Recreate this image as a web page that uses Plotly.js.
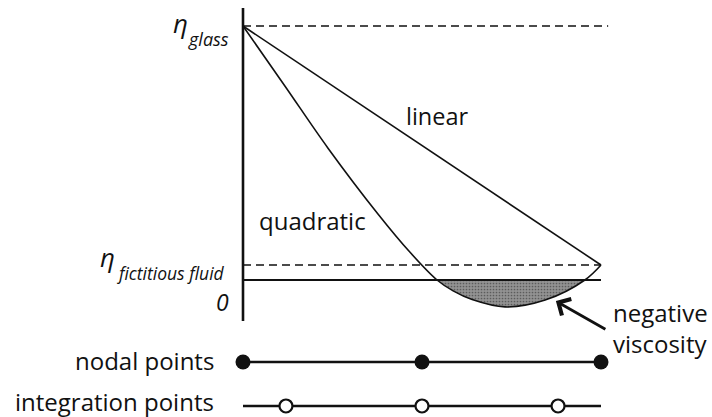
<!DOCTYPE html>
<html>
<head>
<meta charset="utf-8">
<script src="https://cdn.plot.ly/plotly-3.0.1.min.js"></script>
<style>
  html, body { margin: 0; padding: 0; background: #fff; }
  #chart { width: 712px; height: 417px; }
</style>
</head>
<body>
<div id="chart"></div>
<script>
// Viscosity across one element: reference levels (fraction of eta_glass)
const ETA_GLASS = 1.0;
const ETA_FF = 0.059;

// Linear interpolation between the two end values
const linearX = [0, 1];
const linearY = [1.0, 0.059];

// Quadratic interpolation through the nodal values, dips below zero
const quadX = [0, 0.117, 0.237, 0.377, 0.466, 0.542, 0.587, 0.640, 0.732, 0.844, 0.955, 1.0];
const quadY = [1.0, 0.764, 0.520, 0.260, 0.110, 0, -0.043, -0.077, -0.106, -0.079, 0, 0.059];

// Element nodes and Gauss integration points along the element
const nodeX = [0, 0.5, 1];
const gaussX = [0.12, 0.5, 0.88];

// Vertical placement of the two point rows below the graph
const ROW_NODAL = -0.323;
const ROW_GAUSS = -0.496;

const W = 712, H = 417;
const px = v => v / W;
const py = v => 1 - v / H;

const ink = '#111';
const FONT = 'Open Sans, Noto Sans, sans-serif';

// Negative (unphysical) part of the quadratic curve
const negX = quadX.filter((x, i) => quadY[i] <= 0);
const negY = quadY.filter(y => y <= 0);

const traces = [
  { x: negX, y: negY, mode: 'lines', line: { width: 0, shape: 'spline', smoothing: 1 },
    fill: 'tozeroy', fillcolor: '#8c8c8c',
    fillpattern: { shape: '.', bgcolor: '#929292', fgcolor: '#5c5c5c', size: 3, solidity: 0.25 },
    hoverinfo: 'skip' },
  // eta_glass and eta_fictitious fluid reference levels
  { x: [0, 1.02], y: [ETA_GLASS, ETA_GLASS], mode: 'lines',
    line: { color: ink, width: 1.6, dash: '8px,5px' } },
  { x: [0, 1], y: [ETA_FF, ETA_FF], mode: 'lines',
    line: { color: ink, width: 1.6, dash: '8px,5px' } },
  // zero line
  { x: [0, 1], y: [0, 0], mode: 'lines', line: { color: ink, width: 2.2 } },
  // vertical axis
  { x: [0, 0], y: [1.071, -0.161], mode: 'lines', line: { color: ink, width: 2.6 } },
  { x: linearX, y: linearY, mode: 'lines', line: { color: ink, width: 1.6 } },
  { x: quadX, y: quadY, mode: 'lines', line: { color: ink, width: 1.6, shape: 'spline', smoothing: 1 } },
  // nodal points row
  { x: nodeX, y: nodeX.map(() => ROW_NODAL), mode: 'lines+markers',
    line: { color: ink, width: 2.6 },
    marker: { size: 15, color: ink } },
  // integration points row
  { x: [nodeX[0], nodeX[nodeX.length - 1]], y: [ROW_GAUSS, ROW_GAUSS], mode: 'lines',
    line: { color: ink, width: 2.6 } },
  { x: gaussX, y: gaussX.map(() => ROW_GAUSS), mode: 'markers',
    marker: { size: 13, color: '#fff', line: { color: ink, width: 2.2 } } }
];

const txt = (text, x, y, size, xanchor, extra) => Object.assign({
  text, x: px(x), y: py(y), xref: 'paper', yref: 'paper',
  xanchor, yanchor: 'middle', showarrow: false,
  font: { family: FONT, size, color: ink }
}, extra || {});

const layout = {
  width: W, height: H,
  margin: { l: 0, r: 0, t: 0, b: 0 },
  paper_bgcolor: '#fff', plot_bgcolor: '#fff',
  showlegend: false,
  xaxis: { range: [-0.6788, 1.3101], visible: false, fixedrange: true },
  yaxis: { range: [-0.5394, 1.1024], visible: false, fixedrange: true },
  annotations: [
    txt('<i>η</i>', 190, 23, 26, 'right'),
    txt('<i>glass</i>', 186, 39, 18, 'left'),
    txt('<i>η</i>', 117, 257, 26, 'right'),
    txt('<i>fictitious fluid</i>', 115, 273, 17.5, 'left'),
    txt('<i>0</i>', 231, 302, 23, 'right'),
    txt('linear', 437, 116, 23.5, 'center'),
    txt('quadratic', 312, 220, 24, 'center'),
    txt('negative<br>viscosity', 611, 328, 24, 'left', { align: 'left' }),
    txt('nodal points', 216, 360, 24, 'right'),
    txt('integration points', 216, 401, 24, 'right'),
    {
      x: 0.874, y: -0.083, xref: 'x', yref: 'y',
      ax: 51, ay: 29, axref: 'pixel', ayref: 'pixel',
      showarrow: true, arrowhead: 4, arrowsize: 1.3, arrowwidth: 2.8,
      arrowcolor: ink, text: ''
    }
  ]
};

Plotly.newPlot('chart', traces, layout, { staticPlot: true, displayModeBar: false });
</script>
</body>
</html>
